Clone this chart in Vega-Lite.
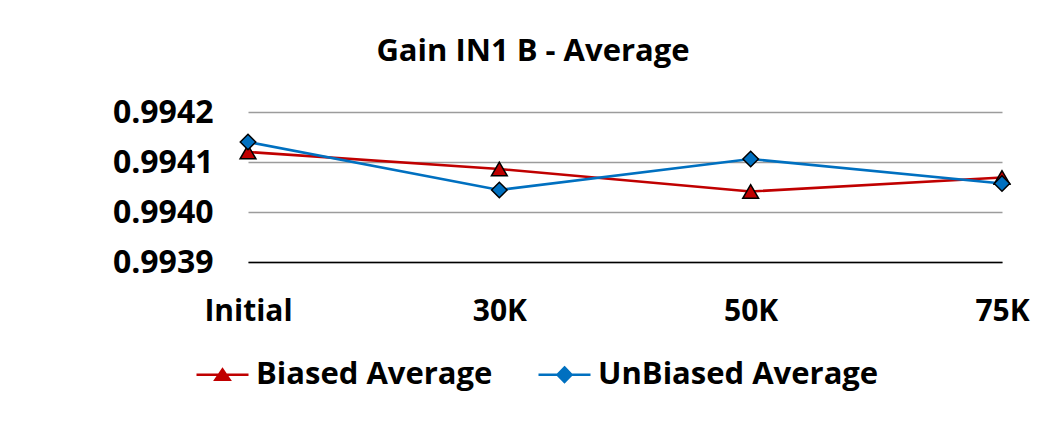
{
  "$schema": "https://vega.github.io/schema/vega-lite/v6.json",
  "width": 754,
  "height": 150,
  "autosize": {"type": "none"},
  "padding": {"left": 248, "top": 112, "right": 47, "bottom": 159},
  "background": "white",
  "config": {
    "view": {"stroke": null},
    "font": "Open Sans"
  },
  "title": {
    "text": "Gain IN1 B - Average",
    "fontSize": 31,
    "fontWeight": "bold",
    "font": "Open Sans",
    "color": "black",
    "anchor": "middle",
    "frame": "group",
    "dx": -92,
    "offset": 28
  },
  "data": {
    "values": [
      {"stage": "Initial", "series": "Biased Average", "value": 0.99412},
      {"stage": "30K", "series": "Biased Average", "value": 0.994086},
      {"stage": "50K", "series": "Biased Average", "value": 0.994041},
      {"stage": "75K", "series": "Biased Average", "value": 0.994069},
      {"stage": "Initial", "series": "UnBiased Average", "value": 0.99414},
      {"stage": "30K", "series": "UnBiased Average", "value": 0.994044},
      {"stage": "50K", "series": "UnBiased Average", "value": 0.994106},
      {"stage": "75K", "series": "UnBiased Average", "value": 0.994057}
    ]
  },
  "encoding": {
    "x": {
      "field": "stage",
      "type": "ordinal",
      "sort": ["Initial", "30K", "50K", "75K"],
      "scale": {"type": "point", "padding": 0},
      "axis": {
        "title": null,
        "labelAngle": 0,
        "labelFont": "Open Sans",
        "labelFontSize": 30,
        "labelFontWeight": "bold",
        "labelColor": "black",
        "ticks": false,
        "labelPadding": 34,
        "domainColor": "black",
        "domainWidth": 1.5,
        "grid": false
      }
    },
    "y": {
      "field": "value",
      "type": "quantitative",
      "scale": {"domain": [0.9939, 0.9942], "zero": false, "nice": false},
      "axis": {
        "title": null,
        "values": [0.9939, 0.994, 0.9941, 0.9942],
        "format": ".4f",
        "labelFont": "Open Sans",
        "labelFontSize": 32,
        "labelFontWeight": "bold",
        "labelColor": "black",
        "ticks": false,
        "domain": false,
        "labelPadding": 35,
        "gridColor": "#9c9c9c",
        "gridWidth": 1.5
      }
    }
  },
  "layer": [
    {
      "mark": {"type": "line", "strokeWidth": 2.6},
      "encoding": {
        "color": {
          "field": "series",
          "type": "nominal",
          "scale": {"domain": ["Biased Average", "UnBiased Average"], "range": ["#C00000", "#0070C0"]},
          "legend": {
            "title": null,
            "orient": "none",
            "direction": "horizontal",
            "legendX": -53,
            "legendY": 235,
            "padding": 0,
            "labelFont": "Open Sans",
            "labelFontSize": 31,
            "labelFontWeight": "bold",
            "labelColor": "black",
            "labelOffset": 6,
            "columnPadding": 40,
            "symbolSize": 2704,
            "labelLimit": 400,
            "encode": {
              "symbols": {
                "update": {
                  "shape": {"signal": "datum.value === 'Biased Average' ? 'M-1,0H1M0,-0.2L0.27,0.19H-0.27Z' : 'M-1,0H1M0,-0.28L0.27,0L0,0.28L-0.27,0Z'"},
                  "fill": {"signal": "datum.value === 'Biased Average' ? '#C00000' : '#0070C0'"},
                  "stroke": {"signal": "datum.value === 'Biased Average' ? '#C00000' : '#0070C0'"},
                  "strokeWidth": {"value": 2.5},
                  "opacity": {"value": 1},
                  "fillOpacity": {"value": 1}
                }
              }
            }
          }
        }
      }
    },
    {
      "transform": [{"filter": "datum.series === 'Biased Average'"}],
      "mark": {"type": "point", "shape": "triangle-up", "filled": true, "fill": "#C00000", "stroke": "black", "strokeWidth": 1.5, "size": 250, "opacity": 1},
      "encoding": {}
    },
    {
      "transform": [{"filter": "datum.series === 'UnBiased Average'"}],
      "mark": {"type": "point", "shape": "diamond", "filled": true, "fill": "#0070C0", "stroke": "black", "strokeWidth": 1.5, "size": 240, "opacity": 1},
      "encoding": {}
    }
  ]
}
